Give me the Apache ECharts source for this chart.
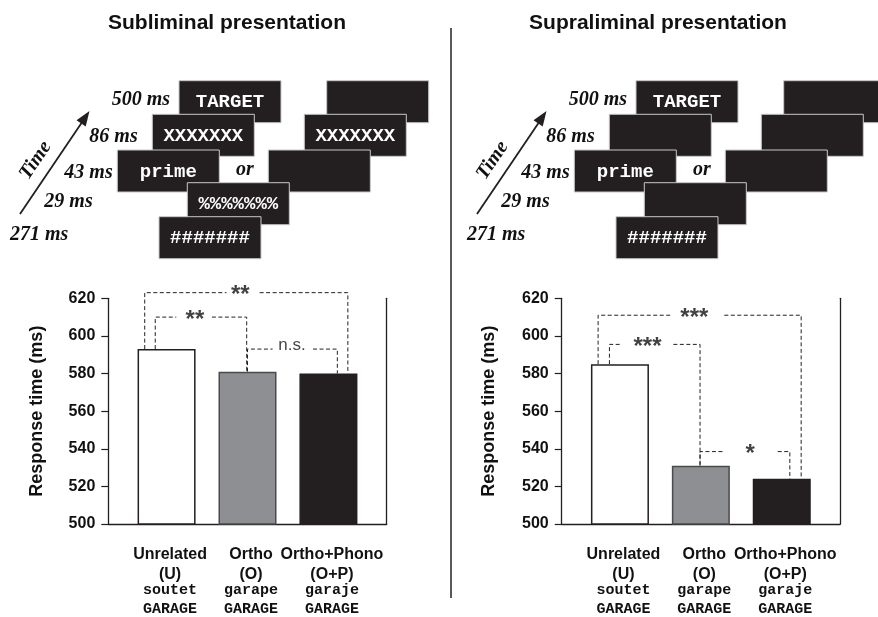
<!DOCTYPE html>
<html><head><meta charset="utf-8">
<script src="https://cdn.jsdelivr.net/npm/echarts@6/dist/echarts.min.js"></script>
<style>html,body{margin:0;padding:0;background:#fff}#c{width:878px;height:617px}</style>
</head><body><div id="c"></div>
<script>
// ---------- data ----------
const categories = ['Unrelated', 'Ortho', 'Ortho+Phono'];
const conditionCodes = ['(U)', '(O)', '(O+P)'];
const primeWords = ['soutet', 'garape', 'garaje'];
const targetWords = ['GARAGE', 'GARAGE', 'GARAGE'];
const subliminalRT = [593, 581, 580];
const supraliminalRT = [585, 531, 524];
const rtMin = 500, rtMax = 620, rtStep = 20;
const panelTitles = ['Subliminal presentation', 'Supraliminal presentation'];
const timeLabels = ['500 ms', '86 ms', '43 ms', '29 ms', '271 ms'];
const subliminalScreens = ['TARGET', '', 'XXXXXXX', 'XXXXXXX', 'prime', '', '%%%%%%%', '#######'];
const supraliminalScreens = ['TARGET', '', '', '', 'prime', '', '', '#######'];
// significance brackets (bar index pairs, bracket level in ms, marks)
const subliminalPairs = [[0, 2], [0, 1], [1, 2]];
const subliminalLevels = [623, 610, 593];
const subliminalMarks = ['**', '**', 'n.s.'];
const supraliminalPairs = [[0, 2], [0, 1], [1, 2]];
const supraliminalLevels = [611, 595.5, 538.5];
const supraliminalMarks = ['***', '***', '*'];
// bracket ends / text gap on the condition scale (bar centres at 1,2,3)
const subliminalSpans = [[0.73, 3.24, 1.74, 2.15, 1.91], [0.86, 1.99, 1.12, 1.56, 1.35], [2.0, 3.11, 2.31, 2.81, 2.55]];
const supraliminalSpans = [[0.73, 3.24, 1.65, 2.29, 1.92], [0.87, 1.99, 1.02, 1.66, 1.34], [1.99, 3.10, 2.27, 2.95, 2.61]];

// ---------- styles ----------
const SANS = '"Liberation Sans", Arial, sans-serif';
const SERIF = '"Liberation Serif", "Times New Roman", serif';
const MONO = '"Liberation Mono", "Courier New", monospace';
const INK = '#231f20';
const barFill = ['#ffffff', '#8e8f93', '#231f20'];
const barBorder = ['#231f20', '#4a4a4c', '#231f20'];

const chart = echarts.init(document.getElementById('c'), null, {renderer: 'canvas'});

function xAxisFor(gi) {
  return {
    type: 'value', gridIndex: gi, min: 0.28, max: 3.72,
    splitLine: {show: false},
    axisLine: {show: true, onZero: false, lineStyle: {color: INK, width: 1.3}},
    axisTick: {show: false},
    axisLabel: {
      show: true, customValues: [1, 2, 3], margin: 17, padding: [0, 0, 0, 7],
      formatter: function (v) {
        const i = Math.round(v) - 1;
        if (i < 0 || i > 2) return '';
        return '{a|' + categories[i] + '}\n{b|' + conditionCodes[i] + '}\n{m|' + primeWords[i] + '}\n{m|' + targetWords[i] + '}';
      },
      rich: {
        a: {fontFamily: SANS, fontWeight: 'bold', fontSize: 16, color: '#111', lineHeight: 27, align: 'center'},
        b: {fontFamily: SANS, fontWeight: 'bold', fontSize: 16, color: '#111', lineHeight: 13, align: 'center'},
        m: {fontFamily: MONO, fontWeight: 'bold', fontSize: 15, color: '#111', lineHeight: 19, align: 'center'}
      }
    }
  };
}
function yAxisFor(gi, gap) {
  return {
    type: 'value', gridIndex: gi, min: rtMin, max: rtMax, interval: rtStep,
    name: 'Response time (ms)', nameLocation: 'middle', nameGap: gap,
    nameTextStyle: {fontFamily: SANS, fontWeight: 'bold', fontSize: 18, color: '#111'},
    splitLine: {show: false},
    axisLine: {show: true, onZero: false, lineStyle: {color: INK, width: 1.3}},
    axisTick: {show: true, length: 7, lineStyle: {color: INK, width: 1.2}},
    axisLabel: {fontFamily: SANS, fontWeight: 'bold', fontSize: 16, color: '#111', margin: 13}
  };
}
function borderAxisFor(gi) {
  return {
    type: 'value', gridIndex: gi, position: 'right', min: rtMin, max: rtMax, interval: rtStep,
    splitLine: {show: false}, axisTick: {show: false}, axisLabel: {show: false},
    axisLine: {show: true, onZero: false, lineStyle: {color: INK, width: 1.3}}
  };
}

function barSeries(rt, gi) {
  return {
    type: 'bar', xAxisIndex: gi, yAxisIndex: gi * 2, barWidth: 58, animation: false, z: 2,
    data: rt.map((v, i) => ({value: [i + 1, v], itemStyle: {color: barFill[i], borderColor: barBorder[i], borderWidth: 1.5}}))
  };
}

function bracketSeries(rt, pairs, levels, marks, spans, gi) {
  const out = [];
  const dash = {color: '#222', width: 1, type: [4, 2.5]};
  pairs.forEach(function (p, k) {
    const lvl = levels[k];
    const s = spans[k];
    out.push({type: 'line', xAxisIndex: gi, yAxisIndex: gi * 2, clip: false, symbol: 'none', silent: true, animation: false, z: 4,
      lineStyle: dash, data: [[s[0], rt[p[0]]], [s[0], lvl], [s[2], lvl]]});
    out.push({type: 'line', xAxisIndex: gi, yAxisIndex: gi * 2, clip: false, symbol: 'none', silent: true, animation: false, z: 4,
      lineStyle: dash, data: [[s[3], lvl], [s[1], lvl], [s[1], rt[p[1]]]]});
    const isNs = marks[k] === 'n.s.';
    out.push({type: 'scatter', xAxisIndex: gi, yAxisIndex: gi * 2, clip: false, silent: true, animation: false, z: 5,
      symbolSize: 1, itemStyle: {color: 'rgba(0,0,0,0)'},
      data: [[s[4], lvl]],
      label: {show: true, position: 'inside', formatter: marks[k], color: '#111',
        fontFamily: SANS, fontWeight: isNs ? 'normal' : 'bold', fontSize: isNs ? 17 : 24,
        offset: isNs ? [0, -4] : [0, 3]}});
  });
  return out;
}

// ---------- schematic (graphic) ----------
const boxPos = [[179, 80.7], [326.7, 80.7], [152.3, 114.3], [304.3, 114.3], [117.3, 150], [268.3, 150], [187.3, 182.7], [159, 216.7]];
const labelPos = [[170, 99.5], [137.7, 136.7], [112.7, 172.7], [92.7, 201.7], [68.3, 235]];
const BW = 102, BH = 42;
function schematic(dx, screens, zBase) {
  const els = [];
  boxPos.forEach(function (b, k) {
    els.push({type: 'rect', z: zBase + 2 * k, shape: {x: b[0] + dx, y: b[1], width: BW, height: BH},
      style: {fill: INK, stroke: '#c8c8c8', lineWidth: 1}});
    if (screens[k]) {
      els.push({type: 'text', z: zBase + 2 * k + 1, x: b[0] + dx + BW / 2, y: b[1] + BH / 2 + 1,
        style: {text: screens[k], fill: '#ffffff', font: 'bold 19px ' + MONO, align: 'center', verticalAlign: 'middle', textAlign: 'center', textVerticalAlign: 'middle'}});
    }
  });
  labelPos.forEach(function (p, k) {
    els.push({type: 'text', z: zBase + 30, x: p[0] + dx, y: p[1],
      style: {text: timeLabels[k], fill: '#111', font: 'italic bold 20px ' + SERIF, align: 'right', verticalAlign: 'middle', textAlign: 'right', textVerticalAlign: 'middle'}});
  });
  els.push({type: 'text', z: zBase + 30, x: 245 + dx, y: 169.7,
    style: {text: 'or', fill: '#111', font: 'italic bold 20px ' + SERIF, align: 'center', verticalAlign: 'middle', textAlign: 'center', textVerticalAlign: 'middle'}});
  // time arrow
  els.push({type: 'line', z: zBase + 30, shape: {x1: 20 + dx, y1: 214, x2: 81.5 + dx, y2: 123}, style: {stroke: INK, lineWidth: 1.8}});
  els.push({type: 'polygon', z: zBase + 30, shape: {points: [[89.5 + dx, 111], [85.7 + dx, 126.5], [76.5 + dx, 120.3]]}, style: {fill: INK}});
  els.push({type: 'text', z: zBase + 30, x: 35.5 + dx, y: 160.5, rotation: 0.977,
    style: {text: 'Time', fill: '#111', font: 'italic bold 20px ' + SERIF, align: 'center', verticalAlign: 'middle', textAlign: 'center', textVerticalAlign: 'middle'}});
  return els;
}

const graphics = [].concat(
  [{type: 'text', x: 227, y: 23, style: {text: panelTitles[0], fill: '#111', font: 'bold 21px ' + SANS, align: 'center', verticalAlign: 'middle', textAlign: 'center', textVerticalAlign: 'middle'}},
   {type: 'text', x: 658, y: 23, style: {text: panelTitles[1], fill: '#111', font: 'bold 21px ' + SANS, align: 'center', verticalAlign: 'middle', textAlign: 'center', textVerticalAlign: 'middle'}},
   {type: 'line', shape: {x1: 451, y1: 28, x2: 451, y2: 598}, style: {stroke: INK, lineWidth: 1.5}}],
  schematic(0, subliminalScreens, 10),
  schematic(457, supraliminalScreens, 60)
);

chart.setOption({
  backgroundColor: '#ffffff',
  animation: false,
  grid: [
    {left: 108.3, right: 878 - 386.7, top: 298.3, bottom: 617 - 526.7, containLabel: false},
    {left: 561.7, right: 878 - 840, top: 298.3, bottom: 617 - 526.7, containLabel: false}
  ],
  xAxis: [xAxisFor(0), xAxisFor(1)],
  yAxis: [yAxisFor(0, 62), borderAxisFor(0), yAxisFor(1, 64), borderAxisFor(1)],
  series: [].concat(
    [barSeries(subliminalRT, 0), barSeries(supraliminalRT, 1)],
    bracketSeries(subliminalRT, subliminalPairs, subliminalLevels, subliminalMarks, subliminalSpans, 0),
    bracketSeries(supraliminalRT, supraliminalPairs, supraliminalLevels, supraliminalMarks, supraliminalSpans, 1)
  ),
  graphic: graphics
});
</script></body></html>
